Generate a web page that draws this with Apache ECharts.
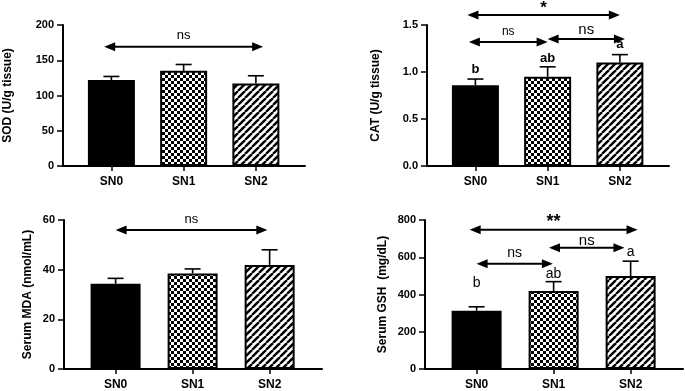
<!DOCTYPE html>
<html>
<head>
<meta charset="utf-8">
<script src="https://cdn.jsdelivr.net/npm/echarts@6/dist/echarts.min.js"></script>
<style>
  html, body { margin: 0; padding: 0; background: #fff; }
  #main { width: 685px; height: 391px; }
</style>
</head>
<body>
<div id="main"></div>
<script>
// groups
var groups = ['SN0', 'SN1', 'SN2'];

// means and SD
var sodMean = [122, 135, 117];
var sodErr = [5, 9, 11];
var catMean = [0.86, 0.95, 1.10];
var catErr = [0.065, 0.105, 0.085];
var mdaMean = [34.3, 38.5, 41.9];
var mdaErr = [2.2, 1.8, 6.1];
var gshMean = [313, 419, 499];
var gshErr = [21, 50, 80];

// significance arrows: [from, to, level]
var sodBrackets = [[-0.10, 2.10, 169]];
var sodBracketText = ['ns'];
var catBrackets = [[-0.11, 2.00, 1.607], [-0.09, 1.00, 1.318], [1.00, 2.07, 1.35]];
var catBracketText = ['*', 'ns', 'ns'];
var mdaBrackets = [[0.00, 1.97, 56]];
var mdaBracketText = ['ns'];
var gshBrackets = [[-0.09, 2.09, 747], [0.00, 0.99, 565], [0.94, 1.92, 651]];
var gshBracketText = ['**', 'ns', 'ns'];

// letters over bars
var catLetters = ['b', 'ab', 'a'];
var catLetterY = [1.03, 1.14, 1.29];
var gshLetters = ['b', 'ab', 'a'];
var gshLetterY = [460, 511, 625];

var FONT = '"Liberation Sans", Arial, sans-serif';

function makeChecker() {
	var c = document.createElement('canvas');
	c.width = 6; c.height = 6;
	var ctx = c.getContext('2d');
	ctx.fillStyle = '#fff';
	ctx.fillRect(0, 0, 6, 6);
	ctx.fillStyle = '#000';
	ctx.fillRect(0, 0, 3, 3);
	ctx.fillRect(3, 3, 3, 3);
	return c;
}

function makeStripes() {
	var s = 7;
	var c = document.createElement('canvas');
	c.width = s; c.height = s;
	var ctx = c.getContext('2d');
	ctx.fillStyle = '#fff';
	ctx.fillRect(0, 0, s, s);
	ctx.strokeStyle = '#000';
	ctx.lineWidth = 2.4;
	[-s, 0, s].forEach(function (k) {
		ctx.beginPath();
		ctx.moveTo(k, s);
		ctx.lineTo(k + s, 0);
		ctx.stroke();
	});
	return c;
}

var fills = ['#000', { image: makeChecker(), repeat: 'repeat' }, { image: makeStripes(), repeat: 'repeat' }];

var panels = [
	{ grid: { left: 63, top: 25, width: 242, height: 141 }, max: 200, interval: 50, digits: 0,
		name: 'SOD (U/g tissue)', nameGap: 49, barWidth: 47, cap: 8,
		mean: sodMean, err: sodErr, brackets: sodBrackets, texts: sodBracketText,
		textSize: [13], textBold: [false], textGap: [11] },
	{ grid: { left: 427, top: 25, width: 242, height: 141 }, max: 1.5, interval: 0.5, digits: 1,
		name: 'CAT (U/g tissue)', nameGap: 45, barWidth: 47, cap: 8,
		mean: catMean, err: catErr, brackets: catBrackets, texts: catBracketText,
		textSize: [17, 12, 15], textBold: [true, false, false], textGap: [7, 10, 9],
		letters: catLetters, letterY: catLetterY, letterSize: 13, letterBold: true },
	{ grid: { left: 64, top: 220, width: 258, height: 150.5 }, max: 60, interval: 20, digits: 0,
		name: 'Serum MDA (nmol/mL)', nameGap: 30, barWidth: 50, cap: 8,
		mean: mdaMean, err: mdaErr, brackets: mdaBrackets, texts: mdaBracketText,
		textSize: [13], textBold: [false], textGap: [11] },
	{ grid: { left: 425, top: 220, width: 258, height: 150 }, max: 800, interval: 200, digits: 0,
		name: 'Serum GSH  (mg/dL)', nameGap: 36, barWidth: 50, cap: 8,
		mean: gshMean, err: gshErr, brackets: gshBrackets, texts: gshBracketText,
		textSize: [18, 14, 15], textBold: [true, false, false], textGap: [8, 11, 7],
		letters: gshLetters, letterY: gshLetterY, letterSize: 14, letterBold: false }
];

var grid = [], xAxis = [], yAxis = [], series = [];

panels.forEach(function (p, idx) {
	grid.push(p.grid);
	xAxis.push({
		type: 'value', gridIndex: idx, min: -0.67, max: 2.68,
		splitLine: { show: false },
		axisLine: { show: true, onZero: false, lineStyle: { color: '#000', width: 2 } },
		axisTick: { show: true, customValues: [0, 1, 2], length: 5, lineStyle: { color: '#000', width: 1.5 } },
		axisLabel: {
			customValues: [0, 1, 2], margin: 10,
			color: '#000', fontFamily: FONT, fontWeight: 'bold', fontSize: 12,
			formatter: function (v) { return groups[Math.round(v)]; }
		}
	});
	yAxis.push({
		type: 'value', gridIndex: idx, min: 0, max: p.max, interval: p.interval,
		name: p.name, nameLocation: 'middle', nameGap: p.nameGap,
		nameTextStyle: { color: '#000', fontFamily: FONT, fontWeight: 'bold', fontSize: 12 },
		splitLine: { show: false },
		axisLine: { show: true, onZero: false, lineStyle: { color: '#000', width: 2 } },
		axisTick: { show: true, length: 6, lineStyle: { color: '#000', width: 1.5 } },
		axisLabel: {
			margin: 9, color: '#000', fontFamily: FONT, fontWeight: 'bold', fontSize: 11,
			formatter: function (v) { return v.toFixed(p.digits); }
		}
	});

	series.push({
		type: 'bar', xAxisIndex: idx, yAxisIndex: idx, barWidth: p.barWidth,
		silent: true, animation: false,
		data: p.mean.map(function (m, i) {
			return { value: [i, m], itemStyle: { color: fills[i], borderColor: '#000', borderWidth: 2 } };
		})
	});

	// error bars (upper only)
	series.push({
		type: 'custom', xAxisIndex: idx, yAxisIndex: idx, silent: true, animation: false,
		encode: { x: 0, y: [1, 2] },
		data: p.mean.map(function (m, i) { return [i, m, m + p.err[i]]; }),
		renderItem: function (params, api) {
			var a = api.coord([api.value(0), api.value(1)]);
			var b = api.coord([api.value(0), api.value(2)]);
			var st = { stroke: '#000', lineWidth: 1.6 };
			return {
				type: 'group', children: [
					{ type: 'line', shape: { x1: a[0], y1: a[1], x2: b[0], y2: b[1] }, style: st },
					{ type: 'line', shape: { x1: b[0] - p.cap, y1: b[1], x2: b[0] + p.cap, y2: b[1] }, style: st }
				]
			};
		},
		z: 3
	});

	// double arrows with labels
	series.push({
		type: 'custom', xAxisIndex: idx, yAxisIndex: idx, silent: true, animation: false,
		clip: false,
		encode: { x: [0, 1], y: 2 },
		data: p.brackets,
		renderItem: function (params, api) {
			var i = params.dataIndex;
			var a = api.coord([api.value(0), api.value(2)]);
			var b = api.coord([api.value(1), api.value(2)]);
			var L = 11, H = 4.5;
			var y = a[1];
			return {
				type: 'group', children: [
					{ type: 'line', shape: { x1: a[0] + L - 1, y1: y, x2: b[0] - L + 1, y2: y },
						style: { stroke: '#000', lineWidth: 2 } },
					{ type: 'polygon', shape: { points: [[a[0], y], [a[0] + L, y - H], [a[0] + L, y + H]] },
						style: { fill: '#000' } },
					{ type: 'polygon', shape: { points: [[b[0], y], [b[0] - L, y - H], [b[0] - L, y + H]] },
						style: { fill: '#000' } },
					{ type: 'text', style: {
						text: p.texts[i], x: (a[0] + b[0]) / 2, y: y - p.textGap[i],
						align: 'center', verticalAlign: 'middle', fill: '#000',
						fontFamily: FONT, fontSize: p.textSize[i], fontWeight: p.textBold[i] ? 'bold' : 'normal'
					} }
				]
			};
		}
	});

	if (p.letters) {
		series.push({
			type: 'custom', xAxisIndex: idx, yAxisIndex: idx, silent: true, animation: false,
			clip: false,
			data: p.letterY.map(function (v, i) { return [i, v]; }),
			renderItem: function (params, api) {
				var c = api.coord([api.value(0), api.value(1)]);
				return {
					type: 'text', style: {
						text: p.letters[params.dataIndex], x: c[0], y: c[1],
						align: 'center', verticalAlign: 'middle', fill: '#000',
						fontFamily: FONT, fontSize: p.letterSize, fontWeight: p.letterBold ? 'bold' : 'normal'
					}
				};
			}
		});
	}
});

var chart = echarts.init(document.getElementById('main'), null, { renderer: 'canvas' });
chart.setOption({
	backgroundColor: '#fff',
	animation: false,
	grid: grid,
	xAxis: xAxis,
	yAxis: yAxis,
	series: series
});
</script>
</body>
</html>
